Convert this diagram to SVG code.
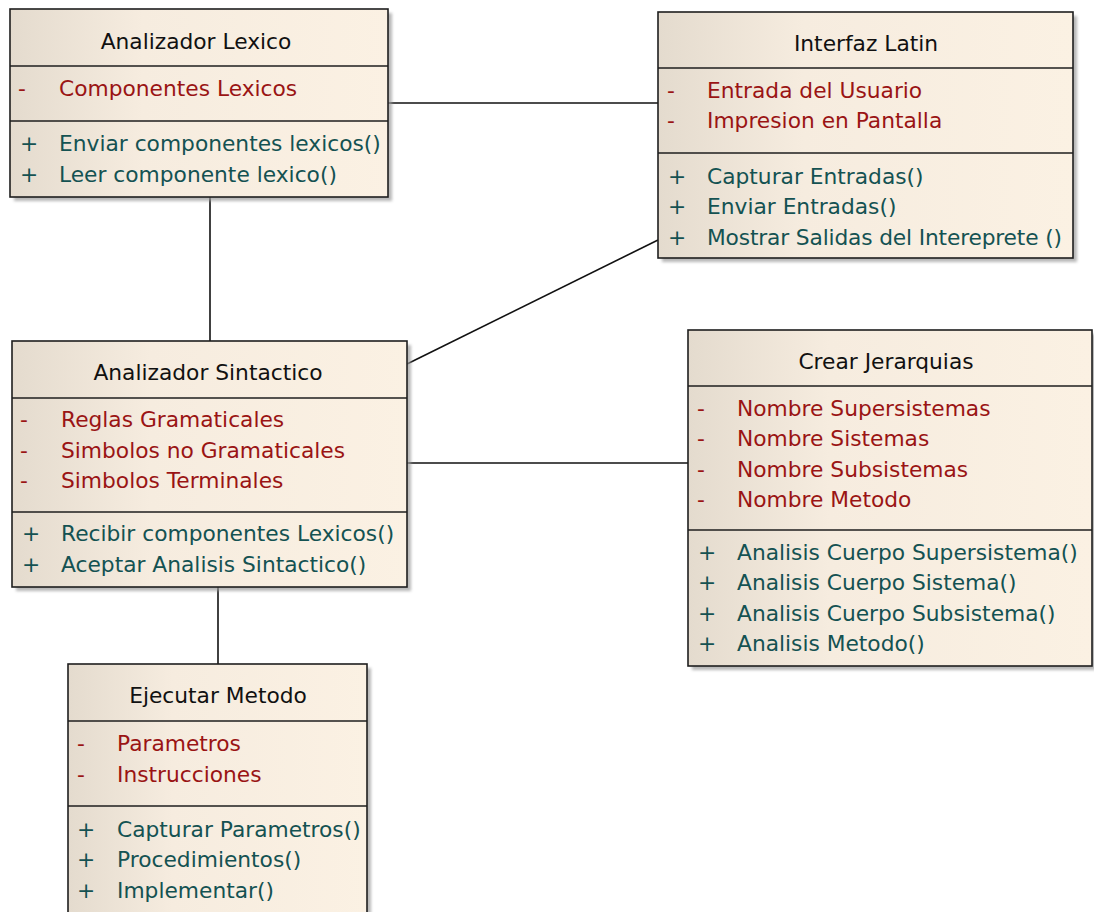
<svg xmlns="http://www.w3.org/2000/svg" width="1094" height="912" viewBox="0 0 1094 912">
  <defs>
    <linearGradient id="classFill" x1="0" y1="0" x2="1" y2="0">
      <stop offset="0" stop-color="#e4dbce"/>
      <stop offset="0.35" stop-color="#f6ecdf"/>
      <stop offset="1" stop-color="#fbf1e3"/>
    </linearGradient>
    <filter id="soft" x="-5%" y="-5%" width="115%" height="115%">
      <feGaussianBlur stdDeviation="1.5"/>
    </filter>
  </defs>
  <style>
    text { font-family: "DejaVu Sans", "Liberation Sans", sans-serif; font-size: 21.75px; }
    .shadow { fill: #9a9a9a; opacity: 0.7; filter: url(#soft); }
    .box { fill: url(#classFill); stroke: #1e1e1e; stroke-width: 1.6; }
    .sep { stroke: #1e1e1e; stroke-width: 1.6; }
    .title { fill: #111; text-anchor: middle; }
    .attr { fill: #9a1414; }
    .op { fill: #145252; }
    .link { stroke: #111; stroke-width: 1.6; fill: none; }
  </style>

  <rect width="1094" height="912" fill="#ffffff"/>

  <!-- associations -->
  <g id="connectors">
    <line class="link" x1="388" y1="103" x2="658" y2="103"/>
    <line class="link" x1="210" y1="197" x2="210" y2="341"/>
    <line class="link" x1="407" y1="364" x2="658" y2="240"/>
    <line class="link" x1="407" y1="463" x2="688" y2="463"/>
    <line class="link" x1="218" y1="587" x2="218" y2="664"/>
  </g>

  <!-- Analizador Lexico -->
  <g id="analizador-lexico">
    <rect class="shadow" x="14" y="13" width="378" height="188"/>
    <rect class="box" x="10" y="9" width="378" height="188"/>
    <line class="sep" x1="10" y1="66" x2="388" y2="66"/>
    <line class="sep" x1="10" y1="121" x2="388" y2="121"/>
    <text class="title" x="196" y="49">Analizador Lexico</text>
    <text class="attr" x="18" y="96">-</text>
    <text class="attr" x="59" y="96">Componentes Lexicos</text>
    <text class="op" x="20" y="151">+</text>
    <text class="op" x="59" y="151">Enviar componentes lexicos()</text>
    <text class="op" x="20" y="182">+</text>
    <text class="op" x="59" y="182">Leer componente lexico()</text>
  </g>

  <!-- Interfaz Latin -->
  <g id="interfaz-latin">
    <rect class="shadow" x="662" y="16" width="415" height="246"/>
    <rect class="box" x="658" y="12" width="415" height="246"/>
    <line class="sep" x1="658" y1="68" x2="1073" y2="68"/>
    <line class="sep" x1="658" y1="153" x2="1073" y2="153"/>
    <text class="title" x="866" y="51">Interfaz Latin</text>
    <text class="attr" x="667" y="98">-</text>
    <text class="attr" x="707" y="98">Entrada del Usuario</text>
    <text class="attr" x="667" y="128">-</text>
    <text class="attr" x="707" y="128">Impresion en Pantalla</text>
    <text class="op" x="668" y="184">+</text>
    <text class="op" x="707" y="184">Capturar Entradas()</text>
    <text class="op" x="668" y="214">+</text>
    <text class="op" x="707" y="214">Enviar Entradas()</text>
    <text class="op" x="668" y="245">+</text>
    <text class="op" x="707" y="245" textLength="355" lengthAdjust="spacing">Mostrar Salidas del Intereprete ()</text>
  </g>

  <!-- Analizador Sintactico -->
  <g id="analizador-sintactico">
    <rect class="shadow" x="16" y="345" width="395" height="246"/>
    <rect class="box" x="12" y="341" width="395" height="246"/>
    <line class="sep" x1="12" y1="398" x2="407" y2="398"/>
    <line class="sep" x1="12" y1="512" x2="407" y2="512"/>
    <text class="title" x="208" y="380">Analizador Sintactico</text>
    <text class="attr" x="20" y="427">-</text>
    <text class="attr" x="61" y="427">Reglas Gramaticales</text>
    <text class="attr" x="20" y="458">-</text>
    <text class="attr" x="61" y="458">Simbolos no Gramaticales</text>
    <text class="attr" x="20" y="488">-</text>
    <text class="attr" x="61" y="488">Simbolos Terminales</text>
    <text class="op" x="22" y="541">+</text>
    <text class="op" x="61" y="541">Recibir componentes Lexicos()</text>
    <text class="op" x="22" y="572">+</text>
    <text class="op" x="61" y="572">Aceptar Analisis Sintactico()</text>
  </g>

  <!-- Crear Jerarquias -->
  <g id="crear-jerarquias">
    <rect class="shadow" x="692" y="334" width="404" height="336"/>
    <rect class="box" x="688" y="330" width="404" height="336"/>
    <line class="sep" x1="688" y1="386" x2="1092" y2="386"/>
    <line class="sep" x1="688" y1="530" x2="1092" y2="530"/>
    <text class="title" x="886" y="369">Crear Jerarquias</text>
    <text class="attr" x="697" y="416">-</text>
    <text class="attr" x="737" y="416">Nombre Supersistemas</text>
    <text class="attr" x="697" y="446">-</text>
    <text class="attr" x="737" y="446">Nombre Sistemas</text>
    <text class="attr" x="697" y="477">-</text>
    <text class="attr" x="737" y="477">Nombre Subsistemas</text>
    <text class="attr" x="697" y="507">-</text>
    <text class="attr" x="737" y="507">Nombre Metodo</text>
    <text class="op" x="698" y="560">+</text>
    <text class="op" x="737" y="560">Analisis Cuerpo Supersistema()</text>
    <text class="op" x="698" y="590">+</text>
    <text class="op" x="737" y="590">Analisis Cuerpo Sistema()</text>
    <text class="op" x="698" y="621">+</text>
    <text class="op" x="737" y="621">Analisis Cuerpo Subsistema()</text>
    <text class="op" x="698" y="651">+</text>
    <text class="op" x="737" y="651">Analisis Metodo()</text>
  </g>

  <!-- Ejecutar Metodo -->
  <g id="ejecutar-metodo">
    <rect class="shadow" x="72" y="668" width="299" height="260"/>
    <rect class="box" x="68" y="664" width="299" height="260"/>
    <line class="sep" x1="68" y1="721" x2="367" y2="721"/>
    <line class="sep" x1="68" y1="806" x2="367" y2="806"/>
    <text class="title" x="218" y="703">Ejecutar Metodo</text>
    <text class="attr" x="77" y="751">-</text>
    <text class="attr" x="117" y="751">Parametros</text>
    <text class="attr" x="77" y="782">-</text>
    <text class="attr" x="117" y="782">Instrucciones</text>
    <text class="op" x="77" y="837">+</text>
    <text class="op" x="117" y="837">Capturar Parametros()</text>
    <text class="op" x="77" y="867">+</text>
    <text class="op" x="117" y="867">Procedimientos()</text>
    <text class="op" x="77" y="898">+</text>
    <text class="op" x="117" y="898">Implementar()</text>
  </g>
</svg>
